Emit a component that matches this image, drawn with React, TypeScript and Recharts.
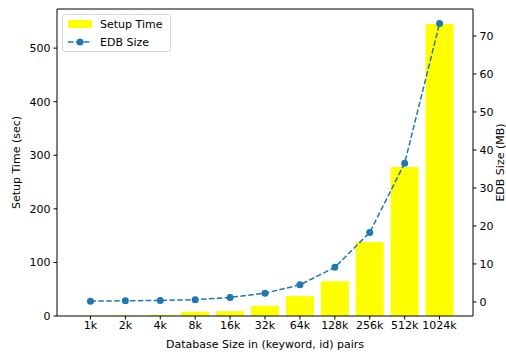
import React from 'react';
import {
  ComposedChart, Bar, Line, XAxis, YAxis, ReferenceLine,
} from 'recharts';

const sizes = ['1k', '2k', '4k', '8k', '16k', '32k', '64k', '128k', '256k', '512k', '1024k'];
const setupTime = [0.5, 1, 2, 8, 9, 19, 37, 65, 138, 278, 545];
const edbSize = [0.2, 0.3, 0.4, 0.6, 1.2, 2.3, 4.5, 9.1, 18.3, 36.5, 73.3];
const timeTicks = [0, 100, 200, 300, 400, 500];
const edbTicks = [0, 10, 20, 30, 40, 50, 60, 70];

const data = sizes.map((s, i) => ({ size: s, time: setupTime[i], edb: edbSize[i] }));

const FONT = '"DejaVu Sans", sans-serif';
const tick = { fill: '#000', fontSize: 11, fontFamily: FONT };

// drawn as an overlay so it doesn't eat into the plot area
function LegendBox() {
  return (
    <svg width={110} height={39} style={{ position: 'absolute', left: 62, top: 14, fontFamily: FONT, fontSize: 11 }}>
      <rect x={0.5} y={0.5} width={108} height={37} rx={2} fill="#fff" fillOpacity={0.8} stroke="#d6d6d6" />
      <rect x={6} y={6} width={24} height={8} fill="#ffff00" />
      <text x={38} y={14} fill="#000">Setup Time</text>
      <line x1={6} x2={30} y1={28} y2={28} stroke="#1f77b4" strokeWidth={1.5} strokeDasharray="5.5 2.4" />
      <circle cx={18} cy={28} r={3.5} fill="#1f77b4" />
      <text x={38} y={32} fill="#000">EDB Size</text>
    </svg>
  );
}

export default function App() {
  return (
    <div style={{ position: 'absolute', left: 0, top: 0, width: 506, height: 354, background: '#fff' }}>
      <ComposedChart
        width={506}
        height={354}
        data={data}
        margin={{ top: 9, right: 0, bottom: 0, left: 0 }}
        barCategoryGap="10%"
      >
        <XAxis
          dataKey="size"
          height={38}
          padding={{ left: 16, right: 16 }}
          tick={tick}
          tickSize={3.5}
          tickMargin={2}
          axisLine={{ stroke: '#000' }}
          tickLine={{ stroke: '#000' }}
          interval={0}
          label={({ viewBox }: any) => (
            <text x={viewBox.x + viewBox.width / 2} y={348} textAnchor="middle" fontSize={11} fontFamily={FONT} fill="#000">
              Database Size in (keyword, id) pairs
            </text>
          )}
        />
        <YAxis
          yAxisId="left"
          width={57}
          domain={[0, 573]}
          ticks={timeTicks}
          tick={tick}
          tickSize={3.5}
          tickMargin={3}
          axisLine={{ stroke: '#000' }}
          tickLine={{ stroke: '#000' }}
          allowDataOverflow
          label={({ viewBox }: any) => (
            <text
              x={20}
              y={viewBox.y + viewBox.height / 2}
              transform={`rotate(-90, 20, ${viewBox.y + viewBox.height / 2})`}
              textAnchor="middle"
              fontSize={11}
              fontFamily={FONT}
              fill="#000"
            >
              Setup Time (sec)
            </text>
          )}
        />
        <YAxis
          yAxisId="right"
          orientation="right"
          width={33}
          domain={[-3.7, 77.1]}
          ticks={edbTicks}
          tick={tick}
          tickSize={3.5}
          tickMargin={3}
          axisLine={{ stroke: '#000' }}
          tickLine={{ stroke: '#000' }}
          allowDataOverflow
          label={({ viewBox }: any) => (
            <text
              x={504}
              y={viewBox.y + viewBox.height / 2}
              transform={`rotate(-90, 504, ${viewBox.y + viewBox.height / 2})`}
              textAnchor="middle"
              fontSize={11}
              fontFamily={FONT}
              fill="#000"
            >
              EDB Size (MB)
            </text>
          )}
        />
        <ReferenceLine yAxisId="left" y={573} stroke="#000" />
        <Bar yAxisId="left" dataKey="time" name="Setup Time" fill="#ffff00" isAnimationActive={false} />
        <Line
          yAxisId="right"
          dataKey="edb"
          name="EDB Size"
          type="linear"
          stroke="#1f77b4"
          strokeWidth={1.5}
          strokeDasharray="5.5 2.4"
          dot={{ r: 3.5, fill: '#1f77b4', stroke: '#1f77b4', strokeWidth: 0 }}
          activeDot={false}
          isAnimationActive={false}
        />
      </ComposedChart>
      <LegendBox />
    </div>
  );
}
